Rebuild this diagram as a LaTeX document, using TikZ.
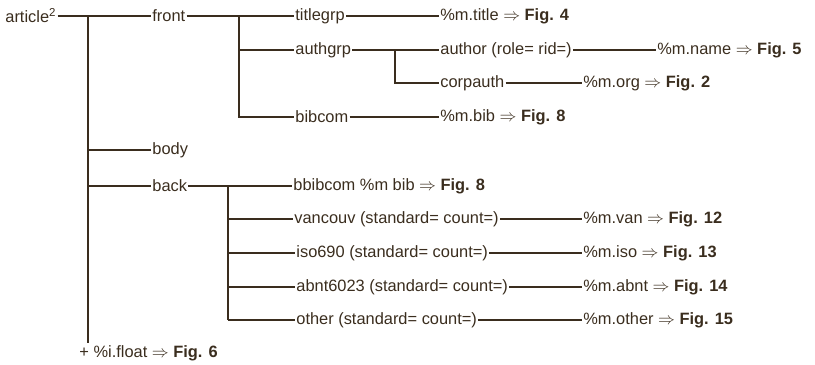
\documentclass[tikz,border=0pt]{standalone}
\usepackage{amsmath}
\usepackage{amssymb}
\usepackage{fontspec}
\setmainfont{Liberation Sans}
\usepackage{tikz}
\usepackage{xcolor}

\begin{document}
\begin{tikzpicture}[x=0.03cm,y=-0.03cm]
    % Define colors
    \definecolor{ink}{RGB}{58,45,30}
    \tikzset{
        lbl/.style={anchor=west, inner sep=1pt, text=ink, font=\fontsize{14}{16}\selectfont},
        tree/.style={draw=ink, line width=1.5pt}
    }
    \useasboundingbox (0,0) rectangle (815,364);

    % Root and first level
    \node[lbl] (article) at (4,16) {article\textsuperscript{2}};
    \node[lbl] (front) at (151,16) {front};
    \node[lbl] (body) at (151,150) {body};
    \node[lbl] (back) at (151,186) {back};
    \node[lbl] (float) at (78,353) {+ \%i.float $\Rightarrow$ \textbf{Fig. 6}};
    \coordinate (jt) at (88,16);
    \coordinate (tend) at (88,343);

    % front part
    \node[lbl] (titlegrp) at (294,16) {titlegrp};
    \node[lbl] (mtitle) at (439,16) {\%m.title $\Rightarrow$ \textbf{Fig. 4}};
    \node[lbl] (authgrp) at (294,50) {authgrp};
    \node[lbl] (author) at (439,50) {author (role= rid=)};
    \node[lbl] (mname) at (656,50) {\%m.name $\Rightarrow$ \textbf{Fig. 5}};
    \node[lbl] (corpauth) at (439,83) {corpauth};
    \node[lbl] (morg) at (582,83) {\%m.org $\Rightarrow$ \textbf{Fig. 2}};
    \node[lbl] (bibcom) at (294,117) {bibcom};
    \node[lbl] (mbib) at (439,117) {\%m.bib $\Rightarrow$ \textbf{Fig. 8}};
    \coordinate (jf) at (239,16);
    \coordinate (ja) at (395,50);

    % back part
    \node[lbl] (bbibcom) at (292,186) {bbibcom \%m bib $\Rightarrow$ \textbf{Fig. 8}};
    \coordinate (jb) at (228,186);

    % Trunk
    \draw[tree] (article.east) -- (front.west);
    \draw[tree] (jt) -- (tend);
    \draw[tree] (jt |- body.west) -- (body.west);
    \draw[tree] (jt |- back.west) -- (back.west);

    % front branches
    \draw[tree] (front.east) -- (titlegrp.west);
    \draw[tree] (titlegrp.east) -- (mtitle.west);
    \draw[tree] (jf) |- (bibcom.west);
    \draw[tree] (jf |- authgrp.west) -- (authgrp.west);
    \draw[tree] (bibcom.east) -- (mbib.west);
    \draw[tree] (authgrp.east) -- (author.west);
    \draw[tree] (ja) |- (corpauth.west);
    \draw[tree] (author.east) -- (mname.west);
    \draw[tree] (corpauth.east) -- (morg.west);

    % back branches
    \draw[tree] (back.east) -- (bbibcom.west);
    \foreach \nm/\lab/\m/\fig/\y/\xs in {van/vancouv/van/12/219/293, iso/iso690/iso/13/253/295,
                                         abnt/abnt6023/abnt/14/287/295, oth/other/other/15/320/295} {
        \node[lbl] (\nm) at (\xs,\y) {\lab\ (standard= count=)};
        \node[lbl] (m\nm) at (582,\y) {\%m.\m\ $\Rightarrow$ \textbf{Fig. \fig}};
        \draw[tree] (\nm.east) -- (m\nm.west);
        \draw[tree] (jb |- \nm.west) -- (\nm.west);
    }
    \draw[tree] (jb) -- (jb |- oth.west);
\end{tikzpicture}
\end{document}
